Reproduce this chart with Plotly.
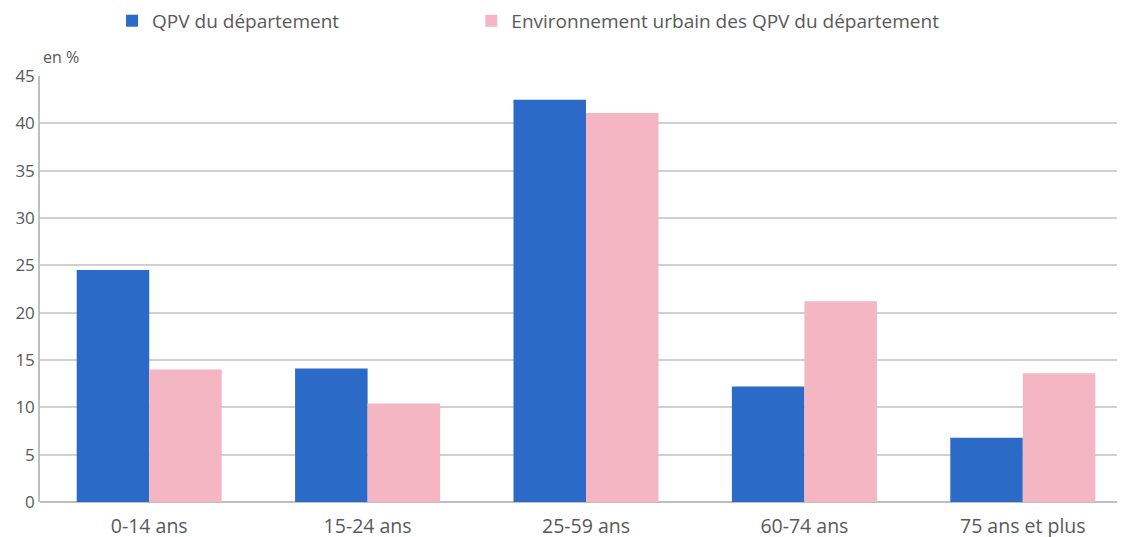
import plotly.graph_objects as go

categories = ["0-14 ans", "15-24 ans", "25-59 ans", "60-74 ans", "75 ans et plus"]
qpv_values = [24.5, 14.1, 42.5, 12.2, 6.8]
env_values = [14.0, 10.4, 41.1, 21.2, 13.6]

QPV_NAME = "QPV du département"
ENV_NAME = "Environnement urbain des QPV du département"

BLUE = "#2B6AC6"
PINK = "#F4B6C2"
TEXT_GREY = "#595959"

fig = go.Figure()

# one legend per series so the entries sit where the reference puts them
fig.add_trace(go.Bar(x=categories, y=qpv_values, name=QPV_NAME, legend="legend",
                     marker=dict(color=BLUE, line_width=0)))
fig.add_trace(go.Bar(x=categories, y=env_values, name=ENV_NAME, legend="legend2",
                     marker=dict(color=PINK, line_width=0)))

legend_style = dict(orientation="h", yref="paper", y=1.174, yanchor="top",
                    xanchor="left", font=dict(size=19, color=TEXT_GREY),
                    bgcolor="rgba(0,0,0,0)")

fig.update_layout(
    width=1125, height=537,
    margin=dict(l=32, r=1, t=68, b=43, autoexpand=False),
    paper_bgcolor="white", plot_bgcolor="white",
    font=dict(family="Open Sans", color=TEXT_GREY, size=16),
    barmode="group", bargap=0.336, bargroupgap=0,
    showlegend=True,
    legend=dict(x=0.066, **legend_style),
    legend2=dict(x=0.395, **legend_style),
    xaxis=dict(range=[-0.5, 4.5], showgrid=False, ticks="", automargin=False,
               tickfont=dict(size=19.5, color=TEXT_GREY), ticklabelstandoff=10,
               showline=False),
    yaxis=dict(range=[0, 45], dtick=5, showgrid=True, gridcolor="#d0d0d0", gridwidth=1.5,
               zeroline=True, zerolinecolor="#bfbfbf", zerolinewidth=2,
               showline=True, linecolor="#bfbfbf", linewidth=1.5,
               ticks="", ticklabelstandoff=0, automargin=False,
               tickfont=dict(size=17, color=TEXT_GREY)),
    annotations=[dict(text="en %", xref="paper", yref="paper", x=0.001, y=1.014,
                      xanchor="left", yanchor="bottom", showarrow=False,
                      font=dict(size=16, color=TEXT_GREY))],
)

fig.write_html("out.html")
